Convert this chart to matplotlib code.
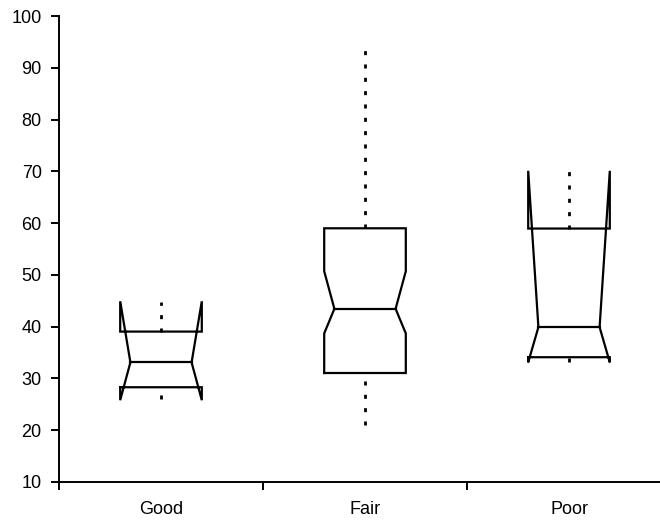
import matplotlib.pyplot as plt

plt.rcParams['font.family'] = ['Liberation Sans', 'DejaVu Sans']

# Notched box summaries per condition
categories = ['Good', 'Fair', 'Poor']
medians = [33.1, 43.45, 39.9]
q1 = [28.3, 31.05, 34.1]
q3 = [39.05, 59.0, 58.95]
whisker_lo = [26.0, 21.0, 33.2]
whisker_hi = [44.7, 94.0, 70.0]
notch_lo = [25.8, 38.7, 33.1]
notch_hi = [44.9, 50.7, 70.1]

box_width = 0.40
notch_width = 0.30

fig = plt.figure(figsize=(6.6, 5.23), dpi=100)
ax = fig.add_axes([59 / 660, 41 / 523, 612 / 660, 466 / 523])

for i in range(len(categories)):
    left, right = i - box_width / 2, i + box_width / 2
    inl, inr = i - notch_width / 2, i + notch_width / 2
    xs = [left, left, inl, left, left, right, right, inr, right, right, left]
    ys = [q1[i], notch_lo[i], medians[i], notch_hi[i], q3[i], q3[i],
          notch_hi[i], medians[i], notch_lo[i], q1[i], q1[i]]
    ax.plot(xs, ys, color='black', lw=1.6, solid_joinstyle='miter')
    ax.plot([inl, inr], [medians[i], medians[i]], color='black', lw=1.6)
    # dotted whiskers: upper one runs up from the box, lower one up from its end
    for a, b in [(q3[i], whisker_hi[i]), (whisker_lo[i], q1[i])]:
        ln, = ax.plot([i, i], [a, b], color='black', lw=2.0,
                      solid_capstyle='butt', dash_capstyle='butt')
        ln.set_dashes((1.45, 3.35))

ax.set_xlim(-0.5, 2.5)
ax.set_ylim(10, 100)
ax.set_yticks(range(10, 101, 10))
ax.set_xticks([-0.5, 0.5, 1.5, 2.5])
ax.set_xticklabels([])
ax.set_xticks(range(len(categories)), minor=True)
ax.set_xticklabels(categories, minor=True)

ax.tick_params(axis='both', which='major', direction='out', length=5.5,
               width=1.4, labelsize=13, pad=7)
ax.tick_params(axis='x', which='minor', length=0, labelsize=13, pad=14)

for side in ['top', 'right']:
    ax.spines[side].set_visible(False)
for side in ['left', 'bottom']:
    ax.spines[side].set_linewidth(1.4)

fig.savefig('out.png', dpi=100)
